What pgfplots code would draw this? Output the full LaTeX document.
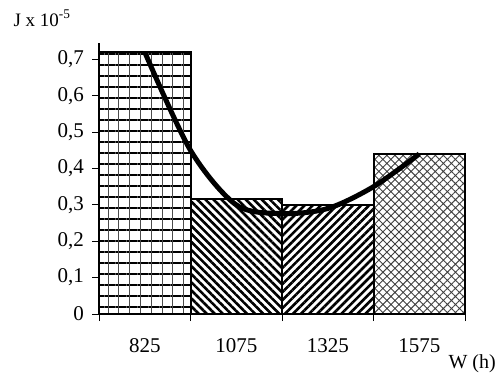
\documentclass[border=0pt]{standalone}
\usepackage{pgfplots}
\pgfplotsset{compat=1.18}
\usepackage{fontspec}
\setmainfont{Liberation Serif}
\usetikzlibrary{patterns.meta}
\begin{document}
\fontsize{21bp}{25bp}\selectfont
\begin{tikzpicture}
\path[use as bounding box] (-99bp,-59bp) rectangle (399bp,314bp);
\begin{axis}[
  at={(0,0)}, anchor=south west,
  scale only axis, width=366bp, height=271bp,
  xmin=0, xmax=4, ymin=0, ymax=0.745,
  axis x line*=bottom, axis y line*=left,
  axis line style={line width=1.5bp},
  tick align=outside,
  tick style={black, line width=0.8bp},
  major tick length=7bp,
  xtick={0,1,2,3,4}, xticklabels={},
  extra x ticks={0.5,1.5,2.5,3.5},
  extra x tick labels={825,1075,1325,1575},
  extra x tick style={major tick length=0pt, xticklabel style={yshift=-17bp}},
  ytick={0,0.1,...,0.71},
  yticklabel style={xshift=-1bp},
  /pgf/number format/use comma,
  /pgf/number format/assume math mode=true,
  ticklabel style={font=\fontsize{21bp}{25bp}\selectfont},
  clip=false,
]
% bar 1: grid
\addplot[ybar interval, draw=none, pattern={Lines[angle=0,distance=11bp,line width=1.3bp]}] coordinates {(0,0.72) (1,0.72)};
\addplot[ybar interval, draw=none, pattern={Lines[angle=90,distance=10.8bp,line width=0.8bp]}, pattern color=black!70] coordinates {(0,0.72) (1,0.72)};
\addplot[ybar interval, draw=black, line width=2bp, fill=none] coordinates {(0,0.72) (1,0.72)};
% bar 2
\addplot[ybar interval, draw=black, line width=2bp, pattern={Lines[angle=-45,distance=5.7bp,line width=2.6bp]}] coordinates {(1,0.316) (2,0.316)};
% bar 3
\addplot[ybar interval, draw=black, line width=2bp, pattern={Lines[angle=45,distance=5.7bp,line width=2.6bp]}] coordinates {(2,0.30) (3,0.30)};
% bar 4
\addplot[ybar interval, draw=black, line width=2bp, pattern={Hatch[angle=45,distance=5.7bp,line width=0.9bp]}, pattern color=black!75] coordinates {(3,0.44) (4,0.44)};
% curve
\addplot[smooth, line width=5bp, black] coordinates {(0.5,0.72) (1,0.45) (1.5,0.30) (2,0.276) (2.5,0.29) (3,0.35) (3.5,0.44)};
\end{axis}
\node[font=\fontsize{19bp}{23bp}\selectfont] at (-57bp,296bp) {J x 10\textsuperscript{-5}};
\node[font=\fontsize{20bp}{24bp}\selectfont, anchor=east, inner sep=1bp] at (398bp,-50bp) {W (h)};
\end{tikzpicture}
\end{document}
